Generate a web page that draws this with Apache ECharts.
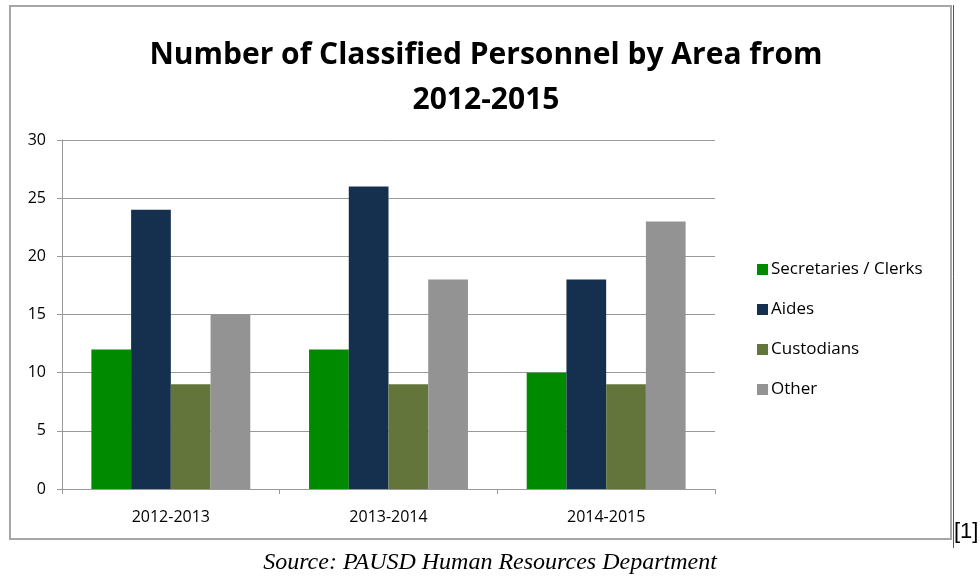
<!DOCTYPE html>
<html>
<head>
<meta charset="utf-8">
<script src="https://cdn.jsdelivr.net/npm/echarts@6/dist/echarts.min.js"></script>
<style>
  html, body { margin: 0; padding: 0; background: #fff; }
  #chart { width: 980px; height: 577px; }
</style>
</head>
<body>
<div id="chart"></div>
<script>
// values
const categories = ['2012-2013', '2013-2014', '2014-2015'];
const secretaries = [12, 12, 10];
const aides = [24, 26, 18];
const custodians = [9, 9, 9];
const other = [15, 18, 23];

const chart = echarts.init(document.getElementById('chart'));
const labelFont = 'Open Sans, DejaVu Sans, sans-serif';

chart.setOption({
    animation: false,
    title: {
        text: 'Number of Classified Personnel by Area from\n2012-2015',
        left: 481,
        top: 28,
        textAlign: 'center',
        textStyle: {
            fontFamily: labelFont,
            fontWeight: 'bold',
            fontSize: 30,
            lineHeight: 45,
            color: '#000',
        },
    },
    legend: {
        orient: 'vertical',
        left: 752,
        top: 256,
        itemWidth: 11,
        itemHeight: 11,
        itemGap: 23,
        icon: 'rect',
        textStyle: { fontFamily: labelFont, fontSize: 17, color: '#000', padding: [0, 0, 0, -2] },
    },
    grid: {
        left: 62,
        right: 265,
        top: 140,
        bottom: 88,
    },
    xAxis: {
        type: 'category',
        data: categories,
        axisLine: { lineStyle: { color: '#999' } },
        axisTick: { show: true, length: 5, lineStyle: { color: '#999' } },
        axisLabel: { fontFamily: labelFont, fontSize: 16, color: '#000', margin: 20 },
    },
    yAxis: {
        type: 'value',
        min: 0,
        max: 30,
        interval: 5,
        axisLine: { show: true, lineStyle: { color: '#999' } },
        axisTick: { show: true, length: 5, lineStyle: { color: '#999' } },
        splitLine: { lineStyle: { color: '#999', width: 1 } },
        axisLabel: { fontFamily: labelFont, fontSize: 16, color: '#000', margin: 16 },
    },
    series: [
        { name: 'Secretaries / Clerks', type: 'bar', data: secretaries, barGap: '0%', barCategoryGap: '27%', itemStyle: { color: '#008a00' } },
        { name: 'Aides', type: 'bar', data: aides, itemStyle: { color: '#15304e' } },
        { name: 'Custodians', type: 'bar', data: custodians, itemStyle: { color: '#63753a' } },
        { name: 'Other', type: 'bar', data: other, itemStyle: { color: '#939393' } },
    ],
    graphic: [
        {
            type: 'rect',
            shape: { x: 10, y: 6, width: 941, height: 533 },
            style: { fill: 'none', stroke: '#a6a6a6', lineWidth: 2 },
            silent: true,
        },
        {
            type: 'line',
            shape: { x1: 953.5, y1: 5, x2: 953.5, y2: 548 },
            style: { stroke: '#3f51b5', lineWidth: 1 },
            silent: true,
        },
        {
            type: 'text',
            left: 954,
            top: 521,
            style: { text: '[1]', font: '22px Liberation Sans, Arial, sans-serif', fill: '#000' },
        },
        {
            type: 'text',
            left: 'center',
            top: 551,
            style: { text: 'Source: PAUSD Human Resources Department', font: 'italic 24px Liberation Serif, Times New Roman, serif', fill: '#000' },
        },
    ],
});
</script>
</body>
</html>
